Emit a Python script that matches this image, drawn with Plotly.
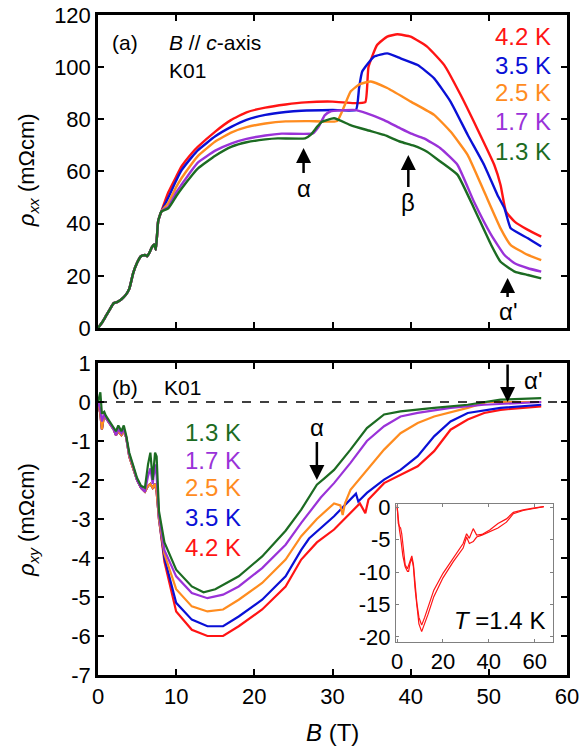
import plotly.graph_objects as go

# ---------------- data: rho_xx (top panel) ----------------
B_low = [0, 0.5, 1, 1.5, 2, 2.5, 3, 3.5, 4, 4.5, 5, 5.5, 6, 6.3, 6.6, 6.9, 7.2, 7.4, 7.7, 8.1]
rxx_low = [0, 2, 4.5, 7, 9.5, 10, 11, 12.5, 15, 21, 25, 27.5, 28, 27.5, 29, 31, 32, 30, 41, 44.6]

B_42 = [9, 10, 10.7, 12, 12.8, 15, 17, 19, 21.4, 24, 26.5, 30, 32.7, 34.2, 34.6, 35.7, 37, 38.3, 40, 42.1, 44.3, 46.4, 48.5, 50.7, 51.5, 52.2, 53.3, 55, 56.7]
rxx_42 = [52, 58, 62, 67, 69.5, 75.3, 79.7, 82.7, 84.5, 85.7, 86.5, 86.8, 86.2, 86.6, 100, 108.5, 111.7, 112.6, 111.7, 107.9, 100.8, 89.3, 76.5, 62.5, 54.8, 44.6, 40.8, 37.6, 35]

B_35 = [9, 10, 10.7, 12, 12.8, 15, 17.1, 19, 21.4, 24, 26, 30, 33, 33.4, 33.8, 35.3, 37, 38.7, 40.9, 43, 45.1, 47.3, 49.4, 51.1, 52, 52.8, 55, 56.7]
rxx_35 = [50, 56.5, 60.5, 65.5, 68.2, 73.5, 77.2, 79.8, 81.7, 82.8, 83.3, 83.6, 83.6, 92, 98.3, 104, 105.3, 103.4, 100.8, 95.7, 86.8, 74, 62.5, 51, 45.9, 38.2, 34.4, 31.2]

B_25 = [9, 10, 10.7, 12, 12.8, 15, 17.1, 19, 21.4, 24, 27, 30.6, 31.5, 32.3, 33.5, 34.9, 37, 40, 43, 45.1, 47.3, 49.4, 51.5, 52.8, 55, 56.7]
rxx_25 = [48, 54, 57.5, 63, 66, 71.5, 75, 77, 78.4, 79.2, 79.3, 79.4, 85, 90.6, 93.5, 94.5, 92, 86.8, 81.7, 75.3, 66.3, 52.3, 38.2, 31.8, 28, 26]

B_17 = [9, 10, 10.7, 12, 12.8, 15, 17.1, 19, 21.4, 23.5, 27.5, 28.2, 29, 29.7, 32.7, 34.4, 36.6, 38.7, 40, 41.7, 43.8, 46, 48.1, 50.3, 52, 53.3, 55, 56.7]
rxx_17 = [46.5, 52, 55, 60.5, 63.5, 68, 70.8, 72.5, 73.8, 74.5, 74.6, 77, 81.5, 83, 83.6, 82.3, 79.7, 76.5, 74.6, 72.7, 68.9, 62.5, 48.4, 35.7, 28, 24.8, 22.9, 21.6]

B_13 = [9, 10, 10.7, 12, 12.8, 15, 17.1, 19, 21.4, 23, 26.5, 27.2, 28, 28.6, 30.2, 32.3, 34.4, 36.6, 38.7, 40.4, 42.1, 43.8, 46, 48.1, 50.3, 51.5, 53.3, 55, 56.7]
rxx_13 = [45.9, 50.5, 53.5, 58.5, 61.2, 66, 69.5, 71.2, 72.3, 72.7, 72.7, 74, 77, 79, 80.4, 77.8, 75.9, 74, 71.4, 69.9, 67.6, 63.8, 58.7, 45.9, 31.8, 25.4, 21.6, 20.3, 19]

# ---------------- data: rho_xy (bottom panel) ----------------
Bxy_low = [0, 0.3, 0.5, 0.8, 1, 1.5, 2, 2.3, 2.6, 3, 3.3, 3.6, 4, 4.5, 5, 5.5, 6, 6.4, 6.7, 7, 7.3, 7.5, 7.8]
rxy_low = [0, -0.3, -0.7, -0.3, -0.4, -0.55, -0.7, -0.85, -0.75, -0.85, -0.75, -0.9, -1.4, -1.7, -2.0, -2.2, -2.3, -2.15, -2.1, -2.2, -2.1, -2.3, -3.0]
rxy_low_17 = [0, -0.2, -0.5, -0.3, -0.4, -0.55, -0.7, -0.85, -0.7, -0.8, -0.7, -0.9, -1.35, -1.65, -2.0, -2.2, -2.3, -1.9, -1.7, -2.1, -1.6, -1.9, -2.9]
rxy_low_13 = [0, 0.25, -0.3, -0.25, -0.35, -0.5, -0.65, -0.75, -0.6, -0.75, -0.6, -0.85, -1.3, -1.6, -1.95, -2.15, -2.2, -1.6, -1.3, -2.0, -1.3, -1.4, -2.8]

Bxy_13 = [8.5, 10, 12, 13.5, 15, 18, 21, 24, 26, 27, 28, 29, 30.2, 32.3, 34.4, 36.6, 38.7, 43, 47.3, 51.5, 56.7]
rxy_13 = [-3.6, -4.3, -4.73, -4.88, -4.8, -4.47, -3.96, -3.3, -2.76, -2.45, -2.12, -1.95, -1.74, -1.22, -0.67, -0.32, -0.24, -0.15, -0.07, 0.06, 0.1]

Bxy_17 = [8.5, 10, 12, 14, 16, 18, 21, 24, 26, 27, 28.5, 30.2, 32.3, 34.4, 36.6, 38.7, 40.9, 45.1, 49.4, 56.7]
rxy_17 = [-3.8, -4.47, -4.9, -5.03, -4.94, -4.73, -4.26, -3.66, -3.1, -2.85, -2.45, -2.08, -1.56, -1.0, -0.62, -0.37, -0.28, -0.15, -0.07, 0]

Bxy_25 = [8.5, 10, 12, 14, 16, 18, 21, 24, 26, 28, 30.2, 31, 31.3, 31.6, 32.3, 34.4, 36.6, 38.7, 40.9, 43, 47.3, 49.8, 56.7]
rxy_25 = [-3.9, -4.8, -5.24, -5.37, -5.32, -5.07, -4.64, -4.04, -3.44, -3.0, -2.6, -2.65, -2.9, -2.6, -2.25, -1.74, -1.22, -0.8, -0.54, -0.37, -0.15, 0, 0]

Bxy_35 = [8.5, 10, 12, 14, 16, 18, 21, 24, 26, 27, 30.2, 32.3, 33, 33.3, 34.4, 36.6, 38.7, 40.9, 43, 45.1, 47.3, 51.5, 56.7]
rxy_35 = [-4.0, -5.15, -5.58, -5.75, -5.75, -5.5, -5.07, -4.47, -3.79, -3.5, -2.93, -2.5, -2.35, -2.55, -2.33, -1.99, -1.74, -1.39, -0.88, -0.5, -0.28, -0.15, -0.07]

Bxy_42 = [8.5, 10, 12, 14, 16, 18, 21, 24, 26, 28, 30.2, 32.3, 33.5, 34.2, 34.6, 36.6, 38.7, 40.9, 43, 45.1, 47.3, 49.4, 51.5, 56.7]
rxy_42 = [-4.1, -5.37, -5.84, -6.0, -6.0, -5.75, -5.32, -4.73, -4.04, -3.6, -3.27, -2.85, -2.6, -2.85, -2.5, -2.08, -1.86, -1.65, -1.26, -0.71, -0.45, -0.28, -0.2, -0.11]

# ---------------- data: inset (T = 1.4 K), two sweeps ----------------
Bin_1 = [0, 0.5, 1, 1.5, 2.5, 3.5, 4.5, 5, 5.6, 6.4, 7.1, 7.8, 8.6, 9.5, 10.7, 12, 13.5, 16, 20, 24.5, 28.8, 30.3, 31.5, 33.2, 34.7, 37, 40.4, 44, 47.7, 50.7, 55, 60, 64]
rin_1 = [0, -2, -3.5, -4.6, -7.5, -9.2, -9.9, -9.9, -8.7, -7.9, -9.2, -12.5, -15.5, -18, -19.2, -18, -16.5, -13.8, -10.9, -8.4, -6.3, -4.6, -5.6, -5.3, -4.6, -4.3, -3.8, -3.2, -2.3, -1.0, -0.5, -0.2, 0.1]
Bin_2 = [0, 0.5, 1, 1.5, 2, 2.8, 3.5, 4.5, 5.6, 6.4, 7.1, 7.8, 8.6, 9.5, 10.7, 12, 13.5, 16, 20, 24.5, 28.8, 30.3, 31.5, 33.2, 34.7, 37, 40.4, 44, 47.7, 50.7, 55, 60, 64]
rin_2 = [0.3, -2.5, -3, -3.2, -4.1, -6.6, -8.9, -9.5, -8.3, -7.5, -8.8, -11.8, -14.8, -17, -18.2, -17, -15.5, -12.8, -10.2, -7.8, -5.6, -4.1, -4.8, -3.3, -4.3, -4.2, -3.5, -2.5, -1.8, -0.8, -0.4, -0.1, 0.1]

# ---------------- ticks ----------------
x_ticks = [0, 10, 20, 30, 40, 50, 60]
x_ticktext = ["0", "10", "20", "30", "40", "50", "60"]
yxx_ticks = [0, 20, 40, 60, 80, 100, 120]
yxx_ticktext = ["0", "20", "40", "60", "80", "100", "120"]
yxy_ticks = [1, 0, -1, -2, -3, -4, -5, -6, -7]
yxy_ticktext = ["1", "0", "-1", "-2", "-3", "-4", "-5", "-6", "-7"]
xin_ticks = [0, 20, 40, 60]
xin_ticktext = ["0", "20", "40", "60"]
yin_ticks = [0, -5, -10, -15, -20]
yin_ticktext = ["0", "-5", "-10", "-15", "-20"]

temps = ["4.2 K", "3.5 K", "2.5 K", "1.7 K", "1.3 K"]
colors = ["#ff1414", "#0a10d6", "#ff8c1f", "#9a32d8", "#1c6b22"]

FONT = "Liberation Sans, Arial, sans-serif"
TICK = 22

fig = go.Figure()

xx_sets = [(B_42, rxx_42), (B_35, rxx_35), (B_25, rxx_25), (B_17, rxx_17), (B_13, rxx_13)]
for (bx, ry), c in zip(xx_sets, colors):
    fig.add_trace(go.Scatter(x=B_low + bx, y=rxx_low + ry, mode="lines",
                             line=dict(color=c, width=2.4, shape="spline", smoothing=0.4),
                             xaxis="x", yaxis="y", showlegend=False, hoverinfo="skip"))

xy_sets = [(rxy_low, Bxy_42, rxy_42), (rxy_low, Bxy_35, rxy_35), (rxy_low, Bxy_25, rxy_25),
           (rxy_low_17, Bxy_17, rxy_17), (rxy_low_13, Bxy_13, rxy_13)]
for (rl, bx, ry), c in zip(xy_sets, colors):
    fig.add_trace(go.Scatter(x=Bxy_low + bx, y=rl + ry, mode="lines",
                             line=dict(color=c, width=2.2), xaxis="x2", yaxis="y2",
                             showlegend=False, hoverinfo="skip"))

# dashed zero line in (b)
fig.add_trace(go.Scatter(x=[0, 60], y=[0, 0], mode="lines",
                         line=dict(color="black", width=1.5, dash="dash"),
                         xaxis="x2", yaxis="y2", showlegend=False, hoverinfo="skip"))

for bx, ry in [(Bin_1, rin_1), (Bin_2, rin_2)]:
    fig.add_trace(go.Scatter(x=bx, y=ry, mode="lines", line=dict(color="#ff1414", width=1.2),
                             xaxis="x3", yaxis="y3", showlegend=False, hoverinfo="skip"))

axis_common = dict(showline=True, linecolor="black", linewidth=2.5, mirror="ticks",
                   ticks="inside", ticklen=6, tickwidth=2, tickcolor="black",
                   showgrid=False, zeroline=False, automargin=False,
                   tickfont=dict(family=FONT, size=TICK, color="black"))
inset_common = dict(showline=True, linecolor="#808080", linewidth=1, mirror="ticks",
                    ticks="inside", ticklen=3, tickwidth=1, tickcolor="#808080",
                    showgrid=False, zeroline=False, automargin=False,
                    tickfont=dict(family=FONT, size=TICK, color="black"))

fig.update_layout(
    width=583, height=752,
    margin=dict(l=98, r=16, t=15, b=77),
    paper_bgcolor="white", plot_bgcolor="white",
    font=dict(family=FONT, size=20, color="black"),
    xaxis=dict(domain=[0, 1], anchor="y", range=[0, 60], tickvals=x_ticks,
               showticklabels=False, **axis_common),
    yaxis=dict(domain=[0.5258, 1], anchor="x", range=[0, 120], tickvals=yxx_ticks,
               ticktext=yxx_ticktext, **axis_common),
    xaxis2=dict(domain=[0, 1], anchor="y2", range=[0, 60], tickvals=x_ticks,
                ticktext=x_ticktext, **axis_common),
    yaxis2=dict(domain=[0, 0.4727], anchor="x2", range=[-7, 1], tickvals=yxy_ticks,
                ticktext=yxy_ticktext, **axis_common),
    xaxis3=dict(domain=[0.6354, 0.9701], anchor="y3", range=[-0.5, 68], tickvals=xin_ticks,
                ticktext=xin_ticktext, **inset_common),
    yaxis3=dict(domain=[0.05, 0.2591], anchor="x3", range=[-20.8, 0.5], tickvals=yin_ticks,
                ticktext=yin_ticktext, **inset_common),
)

ann = []
# axis titles
ann.append(dict(x=-0.149, y=0.765, xref="paper", yref="paper", textangle=-90,
                text="<i>ρ</i><sub><i>xx</i></sub> (mΩcm)", showarrow=False,
                xanchor="center", yanchor="middle", font=dict(size=22)))
ann.append(dict(x=-0.149, y=0.235, xref="paper", yref="paper", textangle=-90,
                text="<i>ρ</i><sub><i>xy</i></sub> (mΩcm)", showarrow=False,
                xanchor="center", yanchor="middle", font=dict(size=22)))
ann.append(dict(x=0.5, y=(675 - 732) / 660, xref="paper", yref="paper",
                text="<i>B</i> (T)", showarrow=False,
                xanchor="center", yanchor="middle", font=dict(size=24)))

# panel (a) labels
ann.append(dict(x=1.54, y=109.3, xref="x", yref="y", text="(a)", showarrow=False,
                xanchor="left", yanchor="middle", font=dict(size=21)))
ann.append(dict(x=8.85, y=109.3, xref="x", yref="y", text="<i>B</i> // <i>c</i>-axis",
                showarrow=False, xanchor="left", yanchor="middle", font=dict(size=21)))
ann.append(dict(x=8.85, y=98.9, xref="x", yref="y", text="K01", showarrow=False,
                xanchor="left", yanchor="middle", font=dict(size=21)))
top_y = [111.6, 100.8, 90.1, 79.0, 67.5]
for t, c, yy in zip(temps, colors, top_y):
    ann.append(dict(x=58.2, y=yy, xref="x", yref="y", text=t, showarrow=False,
                    xanchor="right", yanchor="middle", font=dict(size=24, color=c)))
# arrows with labels panel (a)
for bx, tip, off, lab in [(26.3, 69, 40, "α"), (39.7, 66.3, 47, "β"), (52.4, 19.2, 34, "α'")]:
    ann.append(dict(x=bx, y=tip, xref="x", yref="y", ax=0, ay=off, text=lab,
                    showarrow=True, arrowhead=2, arrowsize=1.2, arrowwidth=2.5,
                    arrowcolor="black", font=dict(size=24)))

# panel (b) labels
ann.append(dict(x=1.54, y=0.36, xref="x2", yref="y2", text="(b)", showarrow=False,
                xanchor="left", yanchor="middle", font=dict(size=21)))
ann.append(dict(x=8.2, y=0.36, xref="x2", yref="y2", text="K01", showarrow=False,
                xanchor="left", yanchor="middle", font=dict(size=21)))
bot_y = [-0.77, -1.49, -2.2, -2.95, -3.72]
for t, c, yy in zip(temps[::-1], colors[::-1], bot_y):
    ann.append(dict(x=18.5, y=yy, xref="x2", yref="y2", text=t, showarrow=False,
                    xanchor="right", yanchor="middle", font=dict(size=24, color=c)))
ann.append(dict(x=28, y=-2.0, xref="x2", yref="y2", ax=0, ay=-53, text="α",
                showarrow=True, arrowhead=2, arrowsize=1.2, arrowwidth=2.5,
                arrowcolor="black", font=dict(size=24)))
ann.append(dict(x=52.4, y=0, xref="x2", yref="y2", ax=0, ay=-39, text="",
                showarrow=True, arrowhead=2, arrowsize=1.2, arrowwidth=2.5, arrowcolor="black"))
ann.append(dict(x=55.6, y=0.56, xref="x2", yref="y2", text="α'", showarrow=False,
                xanchor="center", yanchor="middle", font=dict(size=24)))
# inset label
ann.append(dict(x=0.957, y=0.0833, xref="paper", yref="paper", text="<i>T</i> =1.4 K",
                showarrow=False, xanchor="right", yanchor="middle", font=dict(size=24)))

fig.update_layout(annotations=ann)
fig.write_html("out.html", config={"displayModeBar": False},
               post_script="document.body.style.margin='0';")
